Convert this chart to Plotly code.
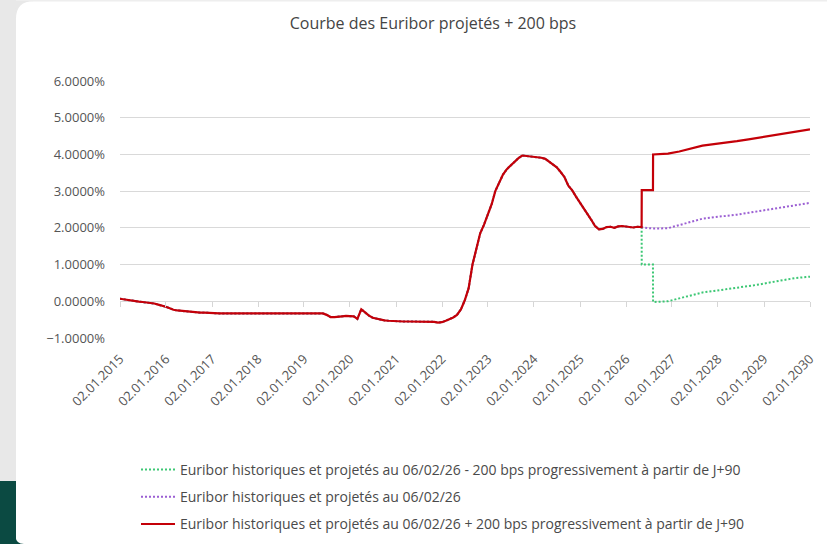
import pandas as pd
import plotly.graph_objs as go

# monthly history of the 3M Euribor (in %)
hist_dates = list(pd.date_range('2015-01-01', '2026-04-01', freq='MS').strftime('%Y-%m-%d')) + ['2026-05-06']
hist_values = [
    0.07, 0.05, 0.03, 0.01, -0.01, -0.01, -0.02, -0.03, -0.04, -0.06, -0.09, -0.13,   # 2015
    -0.15, -0.19, -0.23, -0.25, -0.26, -0.27, -0.29, -0.30, -0.30, -0.31, -0.31, -0.32,  # 2016
    -0.33, -0.33, -0.33, -0.33, -0.33, -0.33, -0.33, -0.33, -0.33, -0.33, -0.33, -0.33,  # 2017
    -0.33, -0.33, -0.33, -0.33, -0.32, -0.32, -0.32, -0.32, -0.32, -0.32, -0.32, -0.31,  # 2018
    -0.31, -0.31, -0.31, -0.31, -0.31, -0.33, -0.37, -0.43, -0.43, -0.41, -0.41, -0.40,  # 2019
    -0.40, -0.41, -0.48, -0.22, -0.30, -0.39, -0.45, -0.48, -0.50, -0.52, -0.53, -0.54,  # 2020
    -0.55, -0.55, -0.55, -0.55, -0.55, -0.55, -0.55, -0.55, -0.55, -0.55, -0.56, -0.58,  # 2021
    -0.57, -0.53, -0.49, -0.44, -0.37, -0.22, 0.02, 0.35, 1.00, 1.45, 1.85, 2.08,  # 2022
    2.35, 2.65, 3.00, 3.25, 3.45, 3.60, 3.70, 3.80, 3.90, 3.97, 3.96, 3.93,  # 2023
    3.92, 3.93, 3.91, 3.88, 3.80, 3.72, 3.65, 3.52, 3.38, 3.15, 3.02, 2.85,  # 2024
    2.70, 2.52, 2.38, 2.22, 2.05, 1.96, 1.97, 2.02, 2.03, 2.00, 2.04, 2.05,  # 2025
    2.03, 2.02, 2.01, 2.03,  # 2026
    2.02,
]

# projections from J+90
proj_dates = ['2026-05-07', '2026-08-04', '2026-08-05', '2026-12-01', '2027-03-01', '2027-06-01',
              '2027-09-01', '2027-12-01', '2028-03-01', '2028-06-01', '2028-09-01', '2028-12-01',
              '2029-03-01', '2029-06-01', '2029-09-01', '2029-12-01', '2030-01-02']
proj_minus = [1.00, 1.00, -0.02, 0.00, 0.08, 0.17, 0.24, 0.28, 0.32, 0.36, 0.41, 0.46, 0.52, 0.58, 0.63, 0.66, 0.67]
proj_base = [2.00, 1.98, 1.98, 1.99, 2.08, 2.17, 2.25, 2.29, 2.32, 2.36, 2.41, 2.46, 2.52, 2.58, 2.63, 2.67, 2.68]
proj_plus = [3.03, 3.03, 4.00, 4.02, 4.08, 4.17, 4.24, 4.28, 4.31, 4.36, 4.41, 4.46, 4.52, 4.58, 4.63, 4.67, 4.68]

names = ['Euribor historiques et projetés au 06/02/26 - 200 bps progressivement à partir de J+90',
         'Euribor historiques et projetés au 06/02/26',
         'Euribor historiques et projetés au 06/02/26 + 200 bps progressivement à partir de J+90']

x_range = ['2015-01-02', '2030-01-02']

# pixel -> paper helpers (plot area 120..810 x 81..338)
def px(x):
    return (x - 120) / 690

def py(y):
    return (338 - y) / 257

fig = go.Figure()

fig.add_trace(go.Scatter(x=hist_dates + proj_dates, y=hist_values + proj_minus, name=names[0],
                         mode='lines', legendgroup='a',
                         line={'color': '#3cc774', 'width': 2, 'dash': '2px,2px'}))
fig.add_trace(go.Scatter(x=hist_dates + proj_dates, y=hist_values + proj_base, name=names[1],
                         mode='lines', legendgroup='b',
                         line={'color': '#9b5fd3', 'width': 2, 'dash': '2px,2px'}))
fig.add_trace(go.Scatter(x=hist_dates + proj_dates, y=hist_values + proj_plus, name=names[2],
                         mode='lines', legendgroup='c', xaxis='x2',
                         line={'color': '#c40008', 'width': 2.2}))

# card background: gray strip left, green block bottom-left, rounded corners
shapes = [
    dict(type='rect', xref='paper', yref='paper', x0=px(0), x1=px(16), y0=py(0), y1=py(481),
         fillcolor='#e8e8e8', line_width=0, layer='below'),
    dict(type='rect', xref='paper', yref='paper', x0=px(0), x1=px(16), y0=py(481), y1=py(544),
         fillcolor='#0b4a42', line_width=0, layer='below'),
    dict(type='rect', xref='paper', yref='paper', x0=px(16), x1=px(827), y0=py(0), y1=py(1.5),
         fillcolor='#eeeeee', line_width=0, layer='below'),
    dict(type='path', xref='paper', yref='paper', layer='below', fillcolor='#e8e8e8', line_width=0,
         path='M {},{} L {},{} Q {},{} {},{} Z'.format(px(15.5), py(1), px(34), py(1), px(16), py(1), px(16), py(19))),
    dict(type='path', xref='paper', yref='paper', layer='below', fillcolor='#0b4a42', line_width=0,
         path='M {},{} L {},{} Q {},{} {},{} Z'.format(px(15.5), py(544), px(15.5), py(536), px(16), py(544), px(24), py(544))),
]

fig.update_layout(
    width=827, height=544,
    margin={'l': 120, 'r': 17, 't': 81, 'b': 206, 'autoexpand': False},
    paper_bgcolor='white', plot_bgcolor='white',
    font={'family': 'Open Sans', 'size': 13, 'color': '#555555'},
    title={'text': 'Courbe des Euribor projetés + 200 bps', 'x': 433 / 827, 'xanchor': 'center',
           'xref': 'container', 'y': 1 - 23 / 544, 'yanchor': 'middle', 'yref': 'container',
           'font': {'size': 16, 'color': '#444444'}},
    showlegend=True,
    legend={'x': px(136), 'y': py(454), 'xanchor': 'left', 'yanchor': 'top',
            'traceorder': 'grouped', 'tracegroupgap': 6, 'itemwidth': 34,
            'font': {'size': 14, 'color': '#4a4a4a'}, 'bgcolor': 'rgba(0,0,0,0)'},
    shapes=shapes,
    hovermode=False,
)

fig.update_layout(
    xaxis={'type': 'date', 'range': x_range, 'tick0': '2015-01-02', 'dtick': 'M12',
           'tickformat': '%d.%m.%Y', 'tickangle': -45, 'showgrid': False, 'zeroline': False,
           'showline': False, 'ticks': '', 'ticklabelstandoff': 10,
           'tickfont': {'size': 13, 'color': '#555555'}},
    xaxis2={'type': 'date', 'range': x_range, 'tick0': '2015-01-02', 'dtick': 'M12',
            'overlaying': 'x', 'anchor': 'free', 'position': 1 / 7, 'showticklabels': False,
            'ticks': 'outside', 'ticklen': 5, 'tickcolor': '#d6d6d6', 'showgrid': False,
            'zeroline': False, 'showline': False},
    yaxis={'range': [-1, 6], 'tick0': 0, 'dtick': 1, 'tickformat': '.4f', 'ticksuffix': '%',
           'gridcolor': '#d9d9d9', 'gridwidth': 1, 'zeroline': False, 'showline': False,
           'ticklabelstandoff': 14, 'tickfont': {'size': 13, 'color': '#555555'}},
)

fig.write_html("out.html", config={'displayModeBar': False},
               post_script="document.body.style.margin='0';")
